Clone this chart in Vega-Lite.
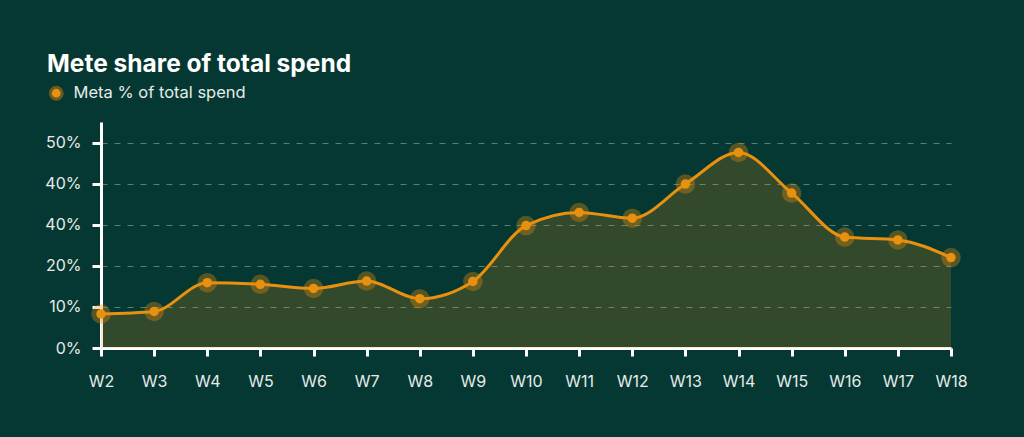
{
  "$schema": "https://vega.github.io/schema/vega-lite/v6.json",
  "background": "#053832",
  "autosize": "none",
  "width": 850,
  "height": 226,
  "padding": {"left": 101, "top": 122, "right": 73, "bottom": 89},
  "title": {
    "text": "Mete share of total spend",
    "anchor": "start",
    "frame": "group",
    "dx": -54,
    "offset": 8,
    "font": "Inter",
    "fontSize": 24.5,
    "fontWeight": "bold",
    "color": "#ffffff"
  },
  "data": {
    "values": [
      {"week": "W2", "share": 8.3, "series": "Meta % of total spend"},
      {"week": "W3", "share": 8.9, "series": "Meta % of total spend"},
      {"week": "W4", "share": 15.9, "series": "Meta % of total spend"},
      {"week": "W5", "share": 15.5, "series": "Meta % of total spend"},
      {"week": "W6", "share": 14.5, "series": "Meta % of total spend"},
      {"week": "W7", "share": 16.3, "series": "Meta % of total spend"},
      {"week": "W8", "share": 12.0, "series": "Meta % of total spend"},
      {"week": "W9", "share": 16.2, "series": "Meta % of total spend"},
      {"week": "W10", "share": 29.8, "series": "Meta % of total spend"},
      {"week": "W11", "share": 33.0, "series": "Meta % of total spend"},
      {"week": "W12", "share": 31.6, "series": "Meta % of total spend"},
      {"week": "W13", "share": 39.9, "series": "Meta % of total spend"},
      {"week": "W14", "share": 47.6, "series": "Meta % of total spend"},
      {"week": "W15", "share": 37.7, "series": "Meta % of total spend"},
      {"week": "W16", "share": 27.0, "series": "Meta % of total spend"},
      {"week": "W17", "share": 26.3, "series": "Meta % of total spend"},
      {"week": "W18", "share": 22.0, "series": "Meta % of total spend"}
    ]
  },
  "encoding": {
    "x": {
      "field": "week",
      "type": "ordinal",
      "sort": null,
      "scale": {"type": "point", "padding": 0},
      "axis": {
        "title": null,
        "labelAngle": 0,
        "labelPadding": 17,
        "tickSize": 8,
        "grid": false
      }
    },
    "y": {
      "field": "share",
      "type": "quantitative",
      "scale": {"domain": [0, 55], "nice": false},
      "axis": {
        "title": null,
        "values": [0, 10, 20, 30, 40, 50],
        "labelExpr": "datum.value == 30 ? '40%' : datum.value + '%'",
        "labelPadding": 11,
        "tickSize": 9,
        "grid": true,
        "gridDash": [6, 7],
        "gridColor": "#5b7d75",
        "gridWidth": 1
      }
    }
  },
  "layer": [
    {
      "mark": {"type": "area", "interpolate": "monotone", "color": "#E8900F", "opacity": 0.2}
    },
    {
      "mark": {"type": "line", "interpolate": "monotone", "color": "#E8900F", "strokeWidth": 3}
    },
    {
      "mark": {"type": "circle", "size": 380, "color": "#E8900F", "opacity": 0.35}
    },
    {
      "mark": {"type": "circle", "size": 90, "opacity": 1},
      "encoding": {
        "color": {
          "field": "series",
          "type": "nominal",
          "scale": {"range": ["#E8900F"]},
          "legend": {
            "title": null,
            "orient": "none",
            "legendX": -53,
            "legendY": -37,
            "padding": 0,
            "symbolType": "circle",
            "symbolSize": 140,
            "symbolStrokeWidth": 3,
            "symbolStrokeColor": "#6a5a20",
            "symbolFillColor": "#E8900F",
            "symbolOpacity": 1,
            "labelOffset": 9,
            "labelFontSize": 16.5,
            "labelLimit": 400,
            "labelFont": "Inter",
            "labelColor": "#e6ebe9"
          }
        }
      }
    }
  ],
  "config": {
    "view": {"stroke": null},
    "axis": {
      "domainColor": "#ffffff",
      "domainWidth": 3,
      "tickColor": "#ffffff",
      "tickWidth": 3,
      "labelColor": "#e6ebe9",
      "labelFont": "Inter",
      "labelFontSize": 16
    }
  }
}
